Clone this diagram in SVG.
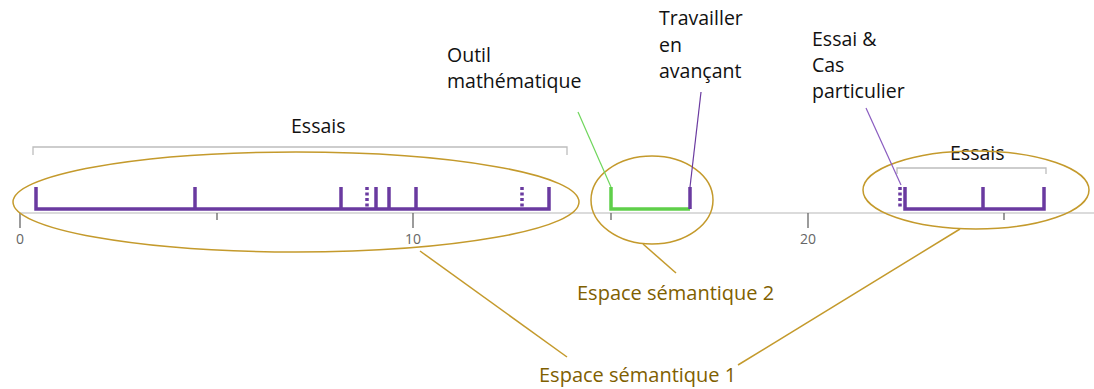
<svg xmlns="http://www.w3.org/2000/svg" width="1094" height="389" viewBox="0 0 1094 389">
<defs>
<style>
.lbl{font-family:"Open Sans","Noto Sans",sans-serif;font-size:19.5px;fill:#111}
.sem{font-family:"Open Sans","Noto Sans",sans-serif;font-size:20px;fill:#7f6000}
.tick{font-family:"Open Sans","Noto Sans",sans-serif;font-size:14px;fill:#666}
.axis{stroke:#cfcfcf;stroke-width:1.5;fill:none}
.tk{stroke:#666;stroke-width:1.3}
.br{stroke:#bdbdbd;stroke-width:1.3;fill:none}
.pu{stroke:#6a3aa0;stroke-width:3.5;fill:none;stroke-linecap:butt}
.pud{stroke:#6a3aa0;stroke-width:3.5;fill:none;stroke-dasharray:3 2.5}
.gr{stroke:#5fcf4a;stroke-width:3.5;fill:none}
.ell{stroke:#c49a2c;stroke-width:1.5;fill:none}
.gl{stroke:#c49a2c;stroke-width:1.5}
</style>
</defs>
<g id="axis">
<line class="axis" x1="20" y1="213" x2="1094" y2="213"/>
<line class="tk" x1="20" y1="213" x2="20" y2="228"/>
<line class="tk" x1="217" y1="213" x2="217" y2="220"/>
<line class="tk" x1="413" y1="213" x2="413" y2="228"/>
<line class="tk" x1="611" y1="213" x2="611" y2="220"/>
<line class="tk" x1="808" y1="213" x2="808" y2="228"/>
<line class="tk" x1="1004" y1="213" x2="1004" y2="220"/>
<text class="tick" x="20" y="244" text-anchor="middle">0</text>
<text class="tick" x="413" y="244" text-anchor="middle">10</text>
<text class="tick" x="808" y="244" text-anchor="middle">20</text>
</g>
<g id="series1">
<path class="br" d="M33 155 V147 H567 V155"/>
<text class="lbl" x="291" y="133">Essais</text>
<path class="pu" d="M36 187 V209 H549 V187"/>
<line class="pu" x1="195" y1="187" x2="195" y2="209"/>
<line class="pu" x1="341" y1="187" x2="341" y2="209"/>
<line class="pud" x1="367" y1="187" x2="367" y2="209"/>
<line class="pu" x1="376" y1="187" x2="376" y2="209"/>
<line class="pu" x1="389" y1="187" x2="389" y2="209"/>
<line class="pu" x1="416" y1="187" x2="416" y2="209"/>
<line class="pud" x1="522" y1="187" x2="522" y2="209"/>
</g>
<g id="series2">
<path class="gr" d="M611 187 V209 H690"/>
<line class="pu" x1="690" y1="187" x2="690" y2="209"/>
</g>
<g id="series3">
<path class="br" d="M897 174 V168 H1046 V174"/>
<text class="lbl" x="950" y="160">Essais</text>
<path class="pu" d="M905 187 V209 H1044 V187"/>
<line class="pu" x1="983" y1="187" x2="983" y2="209"/>
<line class="pud" x1="900" y1="187" x2="900" y2="209"/>
</g>
<g id="label-outil">
<text class="lbl" x="447" y="62">Outil</text>
<text class="lbl" x="447" y="88">mathématique</text>
</g>
<g id="label-travailler">
<text class="lbl" x="659" y="25">Travailler</text>
<text class="lbl" x="659" y="52">en</text>
<text class="lbl" x="659" y="78">avançant</text>
</g>
<g id="label-essai">
<text class="lbl" x="812" y="46">Essai &amp;</text>
<text class="lbl" x="812" y="72">Cas</text>
<text class="lbl" x="812" y="98">particulier</text>
</g>
<g id="espace1">
<ellipse class="ell" cx="296" cy="202" rx="283" ry="50"/>
<ellipse class="ell" cx="976" cy="190" rx="113" ry="39"/>
<text class="sem" x="539" y="382">Espace sémantique 1</text>
</g>
<g id="espace2">
<ellipse class="ell" cx="652" cy="200" rx="61" ry="44"/>
<text class="sem" x="577" y="300">Espace sémantique 2</text>
</g>
<g id="connectors">
<line x1="578" y1="112" x2="611" y2="187" stroke="#6fd65c" stroke-width="1.2"/>
<line x1="701" y1="92" x2="690" y2="187" stroke="#6a3aa0" stroke-width="1.2"/>
<line x1="866" y1="108" x2="901" y2="185" stroke="#8a5cc0" stroke-width="1.2"/>
<line class="gl" x1="420" y1="251" x2="567" y2="357"/>
<line class="gl" x1="643" y1="244" x2="676" y2="273"/>
<line class="gl" x1="960" y1="229" x2="738" y2="365"/>
</g>
</svg>
